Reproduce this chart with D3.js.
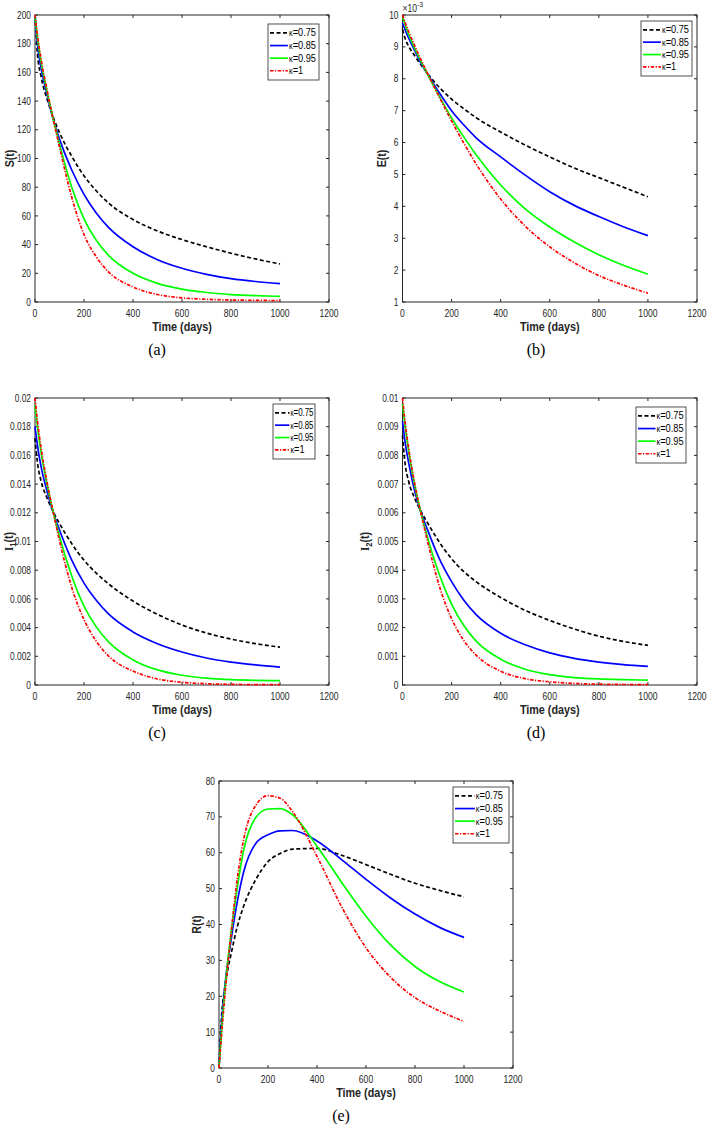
<!DOCTYPE html>
<html><head><meta charset="utf-8">
<script src="https://cdn.jsdelivr.net/npm/d3@7"></script>
<style>body{margin:0;background:#fff}svg{display:block}</style>
</head><body>
<svg id="chart" width="708" height="1125"></svg>
<script>
// ---------- data ----------
const days = [0, 10, 25, 50, 75, 100, 150, 200, 250, 300, 400, 500, 600, 700, 800, 900, 1000];
const kappaLabels = ["0.75", "0.85", "0.95", "1"];
const xTickValues = [0, 200, 400, 600, 800, 1000, 1200];
const xTickLabels = ["0", "200", "400", "600", "800", "1000", "1200"];

// (a) S(t)
const S_k075 = [200, 173, 157, 141, 128.5, 118, 101.5, 88, 77.5, 69, 57.5, 49.5, 43.5, 38.5, 34, 30, 26.5];
const S_k085 = [200, 180, 163, 144, 127, 113.5, 92, 75, 62, 52, 38.5, 29.5, 23.5, 19.3, 16.3, 14.3, 12.8];
const S_k095 = [200, 184, 167, 146, 127, 110, 80, 58, 43, 32.5, 20, 13, 9, 6.6, 5.2, 4.4, 3.9];
const S_k1   = [200, 186, 169, 147, 127, 108, 73, 47, 31.5, 21, 10.5, 5.2, 2.9, 1.9, 1.4, 1.15, 1.0];
const S_ticks = [0, 20, 40, 60, 80, 100, 120, 140, 160, 180, 200];
const S_tickLabels = ["0", "20", "40", "60", "80", "100", "120", "140", "160", "180", "200"];

// (b) E(t), in units of 10^-3
const E_k075 = [9.55, 9.28, 9.02, 8.72, 8.44, 8.18, 7.73, 7.36, 7.06, 6.78, 6.33, 5.92, 5.55, 5.2, 4.9, 4.6, 4.3];
const E_k085 = [9.75, 9.55, 9.28, 8.88, 8.5, 8.18, 7.56, 7.0, 6.55, 6.15, 5.55, 4.98, 4.46, 4.03, 3.68, 3.36, 3.08];
const E_k095 = [9.95, 9.71, 9.4, 8.95, 8.55, 8.17, 7.45, 6.77, 6.17, 5.62, 4.67, 3.92, 3.35, 2.88, 2.48, 2.15, 1.87];
const E_k1   = [10, 9.78, 9.48, 9.03, 8.6, 8.2, 7.43, 6.68, 5.98, 5.33, 4.23, 3.38, 2.73, 2.23, 1.83, 1.53, 1.28];
const E_ticks = [1, 2, 3, 4, 5, 6, 7, 8, 9, 10];
const E_tickLabels = ["1", "2", "3", "4", "5", "6", "7", "8", "9", "10"];

// (c) I1(t)
const I1_k075 = [0.0172, 0.0155, 0.0142, 0.0130, 0.01205, 0.01125, 0.00985, 0.0087, 0.0078, 0.00705, 0.00585, 0.00492, 0.00418, 0.00362, 0.0032, 0.00288, 0.00264];
const I1_k085 = [0.0180, 0.0167, 0.0152, 0.01345, 0.0120, 0.0108, 0.0087, 0.0071, 0.0059, 0.00495, 0.0037, 0.00288, 0.0023, 0.00188, 0.0016, 0.0014, 0.00124];
const I1_k095 = [0.0195, 0.0180, 0.0162, 0.0139, 0.0120, 0.01035, 0.0076, 0.0055, 0.00405, 0.0030, 0.00175, 0.00105, 0.00068, 0.00048, 0.00037, 0.00032, 0.0003];
const I1_k1   = [0.0200, 0.0184, 0.0165, 0.01405, 0.0120, 0.01005, 0.0068, 0.00455, 0.00305, 0.00202, 0.00097, 0.00042, 0.00019, 0.00009, 0.000045, 0.000028, 0.00002];
const I1_ticks = [0, 0.002, 0.004, 0.006, 0.008, 0.01, 0.012, 0.014, 0.016, 0.018, 0.02];
const I1_tickLabels = ["0", "0.002", "0.004", "0.006", "0.008", "0.01", "0.012", "0.014", "0.016", "0.018", "0.02"];

// (d) I2(t)
const I2_k075 = [0.0087, 0.00775, 0.0071, 0.0065, 0.00605, 0.00568, 0.00498, 0.0044, 0.00395, 0.0036, 0.00305, 0.0026, 0.00225, 0.00195, 0.0017, 0.00152, 0.00138];
const I2_k085 = [0.0092, 0.0085, 0.00775, 0.00675, 0.00602, 0.00545, 0.0044, 0.0036, 0.00295, 0.00245, 0.0018, 0.0014, 0.00112, 0.00093, 0.0008, 0.00071, 0.00065];
const I2_k095 = [0.0098, 0.00905, 0.00815, 0.00695, 0.0060, 0.0052, 0.00385, 0.00282, 0.00207, 0.00153, 0.0009, 0.00055, 0.00036, 0.00026, 0.00021, 0.000185, 0.00017];
const I2_k1   = [0.0100, 0.0092, 0.00825, 0.0070, 0.0060, 0.00508, 0.00345, 0.00231, 0.00155, 0.00104, 0.00048, 0.00022, 0.00011, 0.000055, 0.00003, 0.000018, 0.000012];
const I2_ticks = [0, 0.001, 0.002, 0.003, 0.004, 0.005, 0.006, 0.007, 0.008, 0.009, 0.01];
const I2_tickLabels = ["0", "0.001", "0.002", "0.003", "0.004", "0.005", "0.006", "0.007", "0.008", "0.009", "0.01"];

// (e) R(t)
const R_k075 = [0, 14, 23, 32, 39.5, 45, 52.5, 57.5, 59.8, 61.0, 61.2, 59.3, 56.7, 54.0, 51.5, 49.5, 47.7];
const R_k085 = [0, 12, 23.5, 36, 46.5, 54.5, 62.6, 65.0, 66.1, 66.2, 63.3, 58.1, 52.6, 47.4, 42.9, 39.2, 36.4];
const R_k095 = [0, 10, 22.5, 38, 50.5, 60.5, 69.8, 72.2, 72.3, 70.6, 61.8, 51.8, 42.3, 34.3, 28.3, 24.1, 21.2];
const R_k1   = [0, 9, 21, 38, 53, 63.5, 73.2, 75.9, 75.2, 71.5, 59, 45, 33.5, 25.3, 19.6, 15.9, 13];
const R_ticks = [0, 10, 20, 30, 40, 50, 60, 70, 80];
const R_tickLabels = ["0", "10", "20", "30", "40", "50", "60", "70", "80"];

// ---------- drawing ----------
const colors = ["#000000", "#0000ff", "#00ff00", "#ff0000"];
const dashes = ["4,2.5", null, null, "3.5,1.5,1.2,1.5"];
const axisColor = "#262626";
const SANS = "'Liberation Sans', Arial, Helvetica, sans-serif";
const SERIF = "'Liberation Serif', 'Times New Roman', serif";

const svg = d3.select("#chart");

function txt(parent, x, y, o, parts) {
  const g = parent.append("g");
  const t = g.append("text")
    .attr("text-anchor", o.anchor || "start")
    .attr("font-family", o.family || SANS)
    .attr("font-size", o.size || 10)
    .attr("font-weight", o.weight || "normal")
    .attr("fill", o.fill || axisColor);
  parts.forEach(p => {
    const ts = t.append("tspan").text(p.t);
    if (p.size) ts.attr("font-size", p.size);
    if (p.dy) ts.attr("dy", p.dy);
    if (p.family) ts.attr("font-family", p.family);
  });
  let sx = o.sx || 1;
  if (o.maxW) {
    const w = t.node().getComputedTextLength();
    sx = Math.min(sx, o.maxW / w);
  }
  g.attr("transform", `translate(${x},${y}) rotate(${o.rot || 0}) scale(${sx},1)`);
  return t;
}

const panels = [
  { key: "a", box: [35, 15, 329, 302], yDomain: [0, 200], ticks: S_ticks, tickLabels: S_tickLabels,
    series: [S_k075, S_k085, S_k095, S_k1], ylabX: 14,
    ylab: [{ t: "S(t)" }], legend: [268, 24, 319, 80], label: "(a)", labelX: 157 },
  { key: "b", box: [402.5, 15, 697, 302], yDomain: [1, 10], ticks: E_ticks, tickLabels: E_tickLabels,
    series: [E_k075, E_k085, E_k095, E_k1], ylabX: 386,
    ylab: [{ t: "E(t)" }], legend: [641, 21, 692, 76], label: "(b)", labelX: 536, exponent: true },
  { key: "c", box: [35, 398, 329, 685], yDomain: [0, 0.02], ticks: I1_ticks, tickLabels: I1_tickLabels,
    series: [I1_k075, I1_k085, I1_k095, I1_k1], ylabX: 12.5,
    ylab: [{ t: "I", family: SERIF }, { t: "1", size: 9, dy: 3 }, { t: "(t)", dy: -3 }],
    legend: [273, 404, 315, 459], label: "(c)", labelX: 157 },
  { key: "d", box: [402.5, 398, 697, 685], yDomain: [0, 0.01], ticks: I2_ticks, tickLabels: I2_tickLabels,
    series: [I2_k075, I2_k085, I2_k095, I2_k1], ylabX: 369,
    ylab: [{ t: "I", family: SERIF }, { t: "2", size: 9, dy: 3 }, { t: "(t)", dy: -3 }],
    legend: [636, 407, 686, 463], label: "(d)", labelX: 536 },
  { key: "e", box: [219, 781, 513, 1068], yDomain: [0, 80], ticks: R_ticks, tickLabels: R_tickLabels,
    series: [R_k075, R_k085, R_k095, R_k1], ylabX: 201,
    ylab: [{ t: "R(t)" }], legend: [453, 787, 509, 843], label: "(e)", labelX: 341 }
];

panels.forEach(p => {
  const [x0, y0, x1, y1] = p.box;
  const x = d3.scaleLinear().domain([0, 1200]).range([x0, x1]);
  const y = d3.scaleLinear().domain(p.yDomain).range([y1, y0]);
  const g = svg.append("g").attr("class", "panel-" + p.key);

  // axes box
  g.append("rect").attr("x", x0).attr("y", y0).attr("width", x1 - x0).attr("height", y1 - y0)
    .attr("fill", "#fff").attr("stroke", axisColor).attr("stroke-width", 1);

  // x ticks (bottom + top, inward) and labels
  xTickValues.forEach((v, i) => {
    const xx = x(v);
    g.append("line").attr("x1", xx).attr("x2", xx).attr("y1", y1).attr("y2", y1 - 3).attr("stroke", axisColor);
    g.append("line").attr("x1", xx).attr("x2", xx).attr("y1", y0).attr("y2", y0 + 3).attr("stroke", axisColor);
    txt(g, xx, y1 + 14.5, { anchor: "middle", size: 10, sx: 0.86 }, [{ t: xTickLabels[i] }]);
  });
  // y ticks (left + right, inward) and labels
  p.ticks.forEach((v, i) => {
    const yy = y(v);
    g.append("line").attr("x1", x0).attr("x2", x0 + 3).attr("y1", yy).attr("y2", yy).attr("stroke", axisColor);
    g.append("line").attr("x1", x1).attr("x2", x1 - 3).attr("y1", yy).attr("y2", yy).attr("stroke", axisColor);
    txt(g, x0 - 4, yy + 3.6, { anchor: "end", size: 10, sx: 0.84 }, [{ t: p.tickLabels[i] }]);
  });
  if (p.exponent) {
    txt(g, x0, y0 - 3, { anchor: "start", size: 10, sx: 0.86 }, [{ t: "×10" }, { t: "-3", size: 8, dy: -5 }]);
  }

  // axis labels
  txt(g, (x0 + x1) / 2, y1 + 29, { anchor: "middle", size: 13, weight: "bold", sx: 0.83 }, [{ t: "Time (days)" }]);
  txt(g, p.ylabX, (y0 + y1) / 2, { anchor: "middle", size: 12.5, weight: "bold", sx: 0.85, rot: -90 }, p.ylab);

  // series
  const line = d3.line().x((d, i) => x(days[i])).y(d => y(d)).curve(d3.curveMonotoneX);
  p.series.forEach((s, k) => {
    g.append("path").attr("d", line(s)).attr("fill", "none")
      .attr("stroke", colors[k]).attr("stroke-width", 1.7)
      .attr("stroke-dasharray", dashes[k]);
  });

  // legend
  const [lx0, ly0, lx1, ly1] = p.legend;
  const lw = lx1 - lx0, lh = ly1 - ly0;
  g.append("rect").attr("x", lx0).attr("y", ly0).attr("width", lw).attr("height", lh)
    .attr("fill", "#fff").attr("stroke", axisColor).attr("stroke-width", 0.8);
  kappaLabels.forEach((kl, k) => {
    const ry = ly0 + lh * (0.16 + 0.225 * k);
    const lineEnd = lx0 + lw * 0.39;
    g.append("line").attr("x1", lx0 + 2).attr("x2", lineEnd).attr("y1", ry).attr("y2", ry)
      .attr("stroke", colors[k]).attr("stroke-width", 1.7).attr("stroke-dasharray", dashes[k]);
    txt(g, lineEnd + 1, ry + 3.4, { anchor: "start", size: 10.5, sx: 0.88, maxW: lx1 - 1.5 - (lineEnd + 1), fill: "#000" },
      [{ t: "κ", size: 8.5 }, { t: "=" + kl }]);
  });

  // panel caption
  txt(g, p.labelX, y1 + 53, { anchor: "middle", size: 16, family: SERIF, fill: "#000" }, [{ t: p.label }]);
});
</script>
</body></html>
